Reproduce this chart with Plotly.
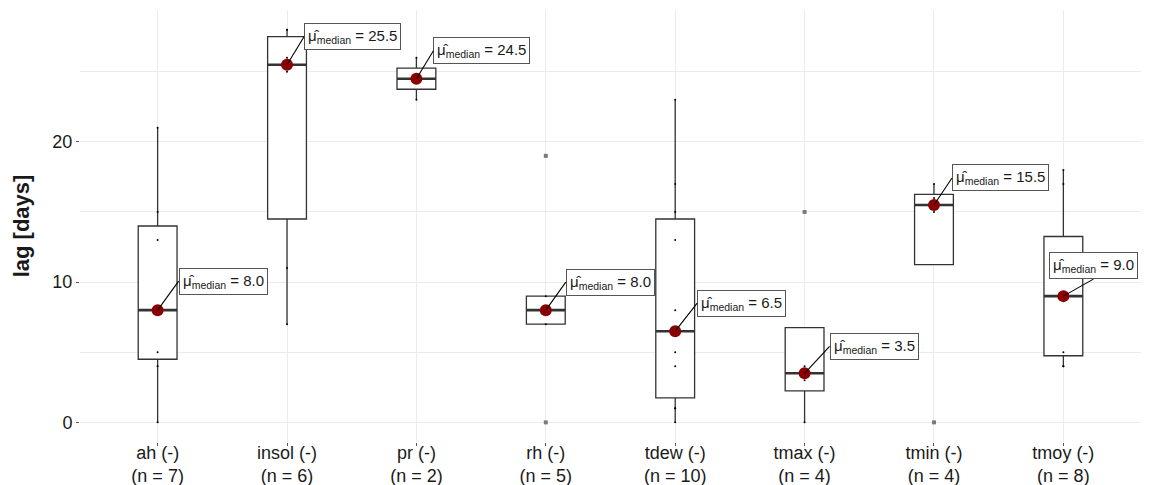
import numpy as np
import plotly.graph_objects as go

# ---- data ----
categories = ["ah", "insol", "pr", "rh", "tdew", "tmax", "tmin", "tmoy"]
lag_ah = [0, 4, 5, 8, 13, 15, 21]
lag_insol = [7, 11, 25, 26, 28, 28]
lag_pr = [23, 26]
lag_rh = [0, 7, 8, 9, 19]
lag_tdew = [0, 1, 1, 4, 5, 8, 13, 15, 17, 23]
lag_tmax = [0, 3, 4, 15]
lag_tmin = [0, 15, 16, 17]
lag_tmoy = [4, 4, 5, 9, 9, 12, 17, 18]
series = [lag_ah, lag_insol, lag_pr, lag_rh, lag_tdew, lag_tmax, lag_tmin, lag_tmoy]

# label offsets (pixels) for the median annotations: (dx, dy, xanchor, yanchor)
label_offsets = [
    (21, -29, "left", "middle"),
    (17, -28, "left", "middle"),
    (17, -28, "left", "middle"),
    (20, -28, "left", "middle"),
    (22, -28, "left", "middle"),
    (25, -27, "left", "middle"),
    (18, -27, "left", "middle"),
    (30, -17, "center", "bottom"),
]

BOX_W = 0.3
LINE_C = "#333333"
FONT = "Liberation Sans, Arial, sans-serif"

fig = go.Figure()
annotations = []
ticktext = []
for i, (cat, vals) in enumerate(zip(categories, series)):
    pos = i + 1
    v = np.array(vals, dtype=float)
    q1, med, q3 = np.percentile(v, [25, 50, 75])
    iqr = q3 - q1
    lo_f, hi_f = q1 - 1.5 * iqr, q3 + 1.5 * iqr
    inside = v[(v >= lo_f) & (v <= hi_f)]
    lw, uw = inside.min(), inside.max()
    outl = v[(v < lo_f) | (v > hi_f)]
    ticktext.append(f"{cat} (-)<br>(n = {len(v)})")

    fig.add_trace(go.Box(
        x=[pos], q1=[q1], median=[med], q3=[q3],
        lowerfence=[min(lw, q1)], upperfence=[max(uw, q3)],
        width=BOX_W, whiskerwidth=0, boxpoints=False,
        fillcolor="white", line=dict(color=LINE_C, width=1.3),
        showlegend=False, hoverinfo="skip"))
    # thick median line
    fig.add_trace(go.Scatter(
        x=[pos - BOX_W / 2, pos + BOX_W / 2], y=[med, med], mode="lines",
        line=dict(color=LINE_C, width=2.6), showlegend=False, hoverinfo="skip"))
    # raw data points
    fig.add_trace(go.Scatter(
        x=[pos] * len(v), y=v, mode="markers",
        marker=dict(color="black", size=2), showlegend=False, hoverinfo="skip"))
    # outliers
    if len(outl):
        fig.add_trace(go.Scatter(
            x=[pos] * len(outl), y=outl, mode="markers",
            marker=dict(color="#7a7a7a", size=4, symbol="square"),
            showlegend=False, hoverinfo="skip"))
    # median point
    fig.add_trace(go.Scatter(
        x=[pos], y=[med], mode="markers",
        marker=dict(color="#8B0000", size=12), showlegend=False, hoverinfo="skip"))
    dx, dy, xa, ya = label_offsets[i]
    annotations.append(dict(
        x=pos, y=med, xref="x", yref="y",
        text=f"μ̂<sub>median</sub> = {med:.1f}",
        showarrow=True, arrowhead=0, arrowwidth=1.1, arrowcolor="black",
        ax=dx, ay=dy, xanchor=xa, yanchor=ya, standoff=0, startstandoff=0,
        font=dict(family=FONT, size=15, color="#1a1a1a"),
        bgcolor="white", bordercolor="#555555", borderwidth=1, borderpad=3))

fig.update_layout(
    width=1150, height=485,
    margin=dict(l=80, r=9, t=10, b=43, autoexpand=False),
    paper_bgcolor="white", plot_bgcolor="white",
    font=dict(family=FONT, color="#1a1a1a"),
    annotations=annotations,
    xaxis=dict(
        range=[0.4, 8.6], tickmode="array", tickvals=list(range(1, 9)),
        ticktext=ticktext, tickfont=dict(size=18, color="#1a1a1a"),
        ticklabelstandoff=-9,
        showgrid=True, gridcolor="#EBEBEB", gridwidth=1,
        ticks="outside", ticklen=3, tickcolor="#555555",
        zeroline=False, showline=False, automargin=False),
    yaxis=dict(
        range=[-1.4, 29.4], tickmode="array", tickvals=[0, 10, 20],
        tickfont=dict(size=18, color="#1a1a1a"),
        showgrid=True, gridcolor="#EBEBEB", gridwidth=1,
        minor=dict(tickmode="array", tickvals=[5, 15, 25], showgrid=True,
                   gridcolor="#EBEBEB", gridwidth=1, ticks=""),
        ticks="outside", ticklen=3, tickcolor="#555555",
        zeroline=False, showline=False, automargin=False,
        title=dict(text="<b>lag [days]</b>", font=dict(size=22, color="#1a1a1a"),
                   standoff=16)),
)

fig.write_html("out.html")
